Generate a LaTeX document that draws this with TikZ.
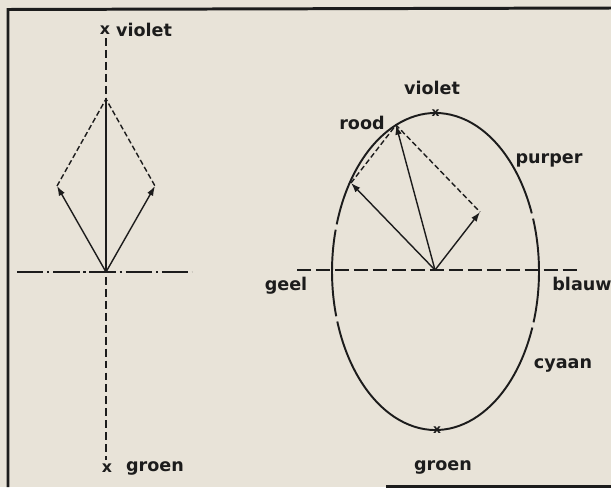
\documentclass[tikz,border=0pt]{standalone}
\usepackage{fontspec}
\setmainfont{DejaVu Sans}
\usetikzlibrary{positioning,arrows.meta}
\definecolor{paper}{RGB}{232,227,216}
\definecolor{ink}{RGB}{28,28,28}
\tikzset{
  vecarrow/.style={-{Latex[length=5.5pt,width=3.8pt]}, draw=ink, line width=0.8pt},
  sumline/.style={draw=ink, dash pattern=on 3pt off 1.6pt, line width=0.8pt},
  axisdash/.style={draw=ink, dash pattern=on 4.5pt off 2.3pt, line width=0.9pt},
  axislong/.style={draw=ink, dash pattern=on 8pt off 2.8pt, line width=0.9pt},
  axisdot/.style={draw=ink, dash pattern=on 15pt off 2.2pt on 1.2pt off 2.2pt, line width=0.9pt},
  circlearc/.style={draw=ink, line width=1.1pt},
  framebar/.style={draw=ink, line width=1.7pt},
  colourlabel/.style={font=\bfseries, text=ink, inner sep=0.5pt},
  crossmark/.style={font=\bfseries\small, text=ink, inner sep=0pt}
}

\begin{document}
\begin{tikzpicture}[x=0.02cm, y=-0.02cm, >=Latex, every node/.style={font=\fontsize{8.6}{10}\selectfont}]
      \fill[paper] (0,0) rectangle (611,487);
      \useasboundingbox (0,0) rectangle (611,487);
      % frame
      \draw[framebar] (8,487) -- (8,9.5) -- (611,8);
      \draw[framebar] (386,486.5) -- (611,486.5);

      % left: two equal vectors along the axis
      \node[crossmark] (ltop) at (105,30) {x};
      \node[colourlabel] (lviolet) at (144,30) {violet};
      \node[crossmark] (lbot) at (107,468) {x};
      \node[colourlabel] (lgroen) at (155,468) {groen};
      \coordinate (lo) at (106,272);
      \coordinate (la) at (57,186);
      \coordinate (lb) at (155,186);
      \coordinate (lr) at (106,99);
      \draw[axisdash] (106,38) -- (106,460);
      \draw[axisdot] (17,272) coordinate (lw) -- (192,272) coordinate (le);
      \draw[vecarrow] (lo) -- (la);
      \draw[vecarrow] (lo) -- (lb);
      \draw[draw=ink, line width=0.9pt] (lo) -- (lr);
      \draw[sumline] (la) -- (lr) -- (lb);

      % right: colour ellipse
      \coordinate (ctr) at (435.5,271.5);
      \draw[circlearc] (ctr) ++(197.3:103.5 and 158.5) arc[start angle=197.3, end angle=338.5, x radius=103.5, y radius=158.5];
      \draw[circlearc] (ctr) ++(340.5:103.5 and 158.5) arc[start angle=340.5, end angle=378.7, x radius=103.5, y radius=158.5];
      \draw[circlearc] (ctr) ++(20.7:103.5 and 158.5) arc[start angle=20.7, end angle=161.6, x radius=103.5, y radius=158.5];
      \draw[circlearc] (ctr) ++(163.6:103.5 and 158.5) arc[start angle=163.6, end angle=195.3, x radius=103.5, y radius=158.5];
      \node[crossmark, font=\bfseries\scriptsize] (rtop) at (435.5,113) {x};
      \node[crossmark, font=\bfseries\scriptsize] (rbot) at (437,430) {x};
      \draw[axislong] (297,270) coordinate (rw) -- (580,270) coordinate (re);

      \coordinate (ro) at (435,270);
      \coordinate (ra) at (351,183);
      \coordinate (rb) at (480,212);
      \coordinate (rr) at (396,125);
      \draw[vecarrow] (ro) -- (ra);
      \draw[vecarrow] (ro) -- (rb);
      \draw[vecarrow] (ro) -- (rr);
      \draw[sumline] (ra) -- (rr) -- (rb);

      \node[colourlabel] (rviolet) at (432,88) {violet};
      \node[colourlabel] (rood) at (362,123) {rood};
      \node[colourlabel] (purper) at (549,160) {purper};
      \node[colourlabel] (geel) at (286,286) {geel};
      \node[colourlabel] (blauw) at (582,284) {blauw};
      \node[colourlabel] (cyaan) at (563,365) {cyaan};
      \node[colourlabel] (rgroen) at (443,467) {groen};
    \end{tikzpicture}
\end{document}
